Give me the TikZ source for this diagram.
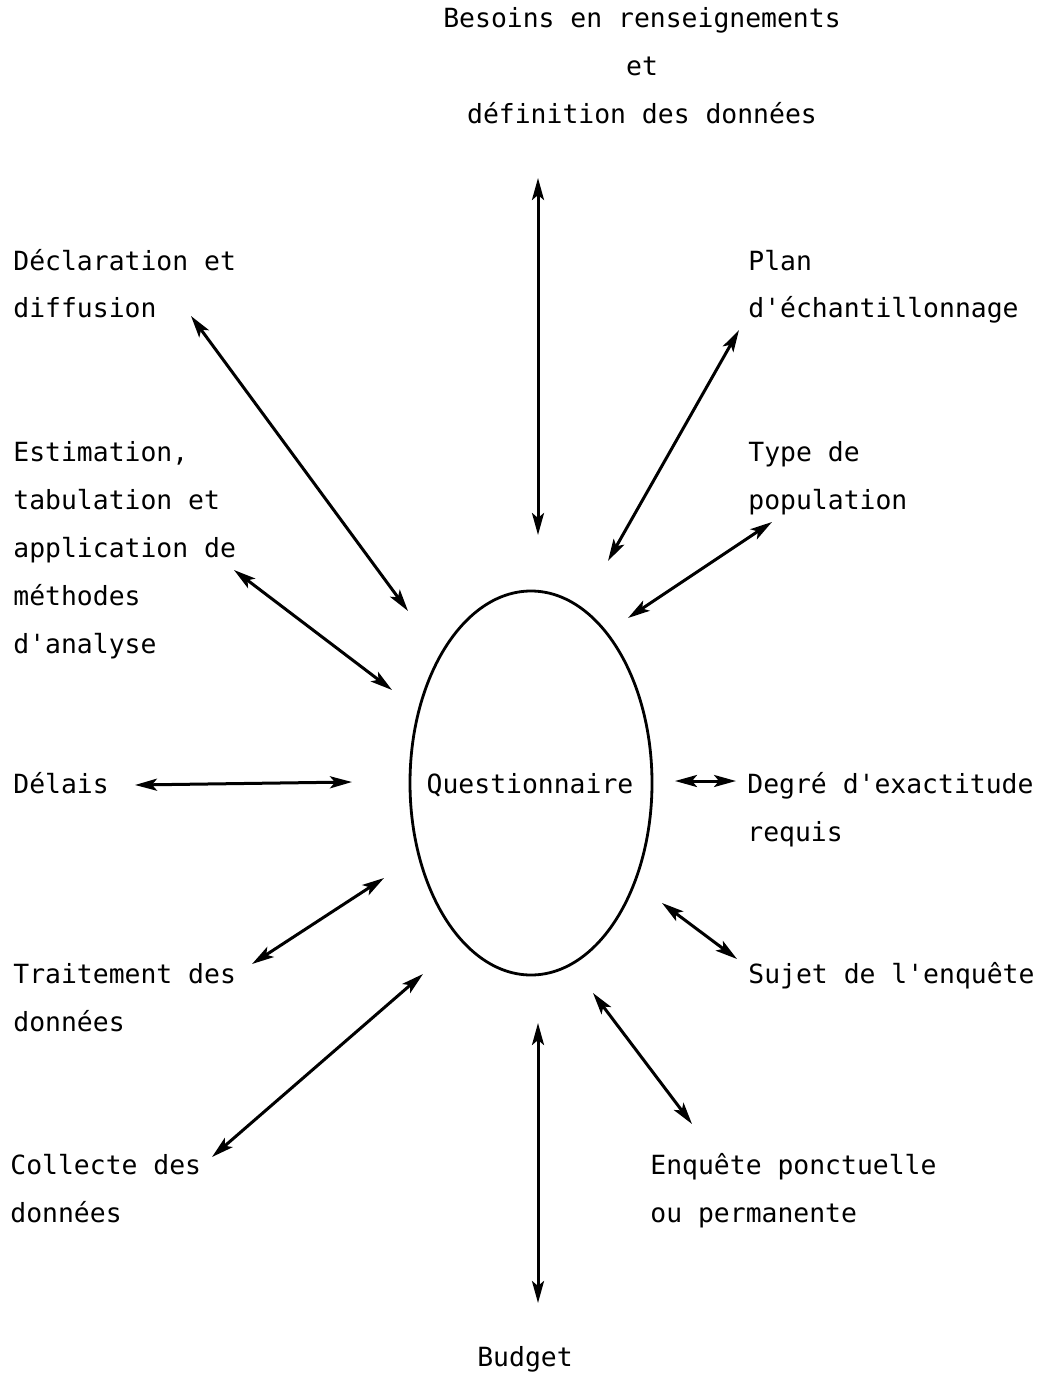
\documentclass[tikz,border=0pt]{standalone}
\usepackage{fontspec}
\newfontfamily\typefont{DejaVu Sans Mono}
\usetikzlibrary{arrows.meta}

\begin{document}
\begin{tikzpicture}[x=0.5pt, y=-0.5pt,
  lbl/.style={anchor=base west, inner sep=0pt, align=left,
              font=\typefont\fontsize{13.2}{24}\selectfont},
  toplbl/.style={lbl, anchor=base, align=center},
  arr/.style={{Stealth[length=11pt,width=6pt,inset=2.5pt]}-{Stealth[length=11pt,width=6pt,inset=2.5pt]},
              line width=1.5pt},
  quest/.style={line width=1.4pt}
]
\useasboundingbox (0,0) rectangle (1040,1374);

% centre
\node[toplbl] (q) at (530,793) {Questionnaire};
\draw[quest] (531,783) ellipse [x radius=121, y radius=192];

% labels (placed at the baseline of their last line)
\node[toplbl] (besoins) at (642,124) {Besoins en renseignements\\et\\définition des données};
\node[lbl] (declar) at (13,318) {Déclaration et\\diffusion};
\node[lbl] (plan) at (748,318) {Plan\\d'échantillonnage};
\node[lbl] (estim) at (13,653) {Estimation,\\tabulation et\\application de\\méthodes\\d'analyse};
\node[lbl] (type) at (748,509) {Type de\\population};
\node[lbl] (delais) at (13,793) {Délais};
\node[lbl] (degre) at (747,841) {Degré d'exactitude\\requis};
\node[lbl] (traite) at (13,1031) {Traitement des\\données};
\node[lbl] (sujet) at (748,983) {Sujet de l'enquête};
\node[lbl] (collecte) at (10,1222) {Collecte des\\données};
\node[lbl] (enquete) at (650,1222) {Enquête ponctuelle\\ou permanente};
\node[toplbl] (budget) at (525,1366) {Budget};

% arrow ends
\coordinate (besoinsA) at (538,178);   \coordinate (besoinsB) at (538,535);
\coordinate (declarA) at (191,316);    \coordinate (declarB) at (408,611);
\coordinate (planA) at (739,330);      \coordinate (planB) at (608,561);
\coordinate (estimA) at (234,570);     \coordinate (estimB) at (392,690);
\coordinate (typeA) at (772,522);      \coordinate (typeB) at (628,618);
\coordinate (delaisA) at (135,785);    \coordinate (delaisB) at (352,782);
\coordinate (degreA) at (675,781);     \coordinate (degreB) at (736,781);
\coordinate (traiteA) at (252,964);    \coordinate (traiteB) at (384,878);
\coordinate (sujetA) at (662,903);     \coordinate (sujetB) at (737,959);
\coordinate (collecteA) at (212,1157); \coordinate (collecteB) at (423,974);
\coordinate (enqueteA) at (593,993);   \coordinate (enqueteB) at (692,1124);
\coordinate (budgetA) at (538,1023);   \coordinate (budgetB) at (538,1303);

\draw[arr] (besoinsA) -- (besoinsB);
\draw[arr] (declarA) -- (declarB);
\draw[arr] (planA) -- (planB);
\draw[arr] (estimA) -- (estimB);
\draw[arr] (typeA) -- (typeB);
\draw[arr] (delaisA) -- (delaisB);
\draw[arr] (degreA) -- (degreB);
\draw[arr] (traiteA) -- (traiteB);
\draw[arr] (sujetA) -- (sujetB);
\draw[arr] (collecteA) -- (collecteB);
\draw[arr] (enqueteA) -- (enqueteB);
\draw[arr] (budgetA) -- (budgetB);
\end{tikzpicture}
\end{document}
